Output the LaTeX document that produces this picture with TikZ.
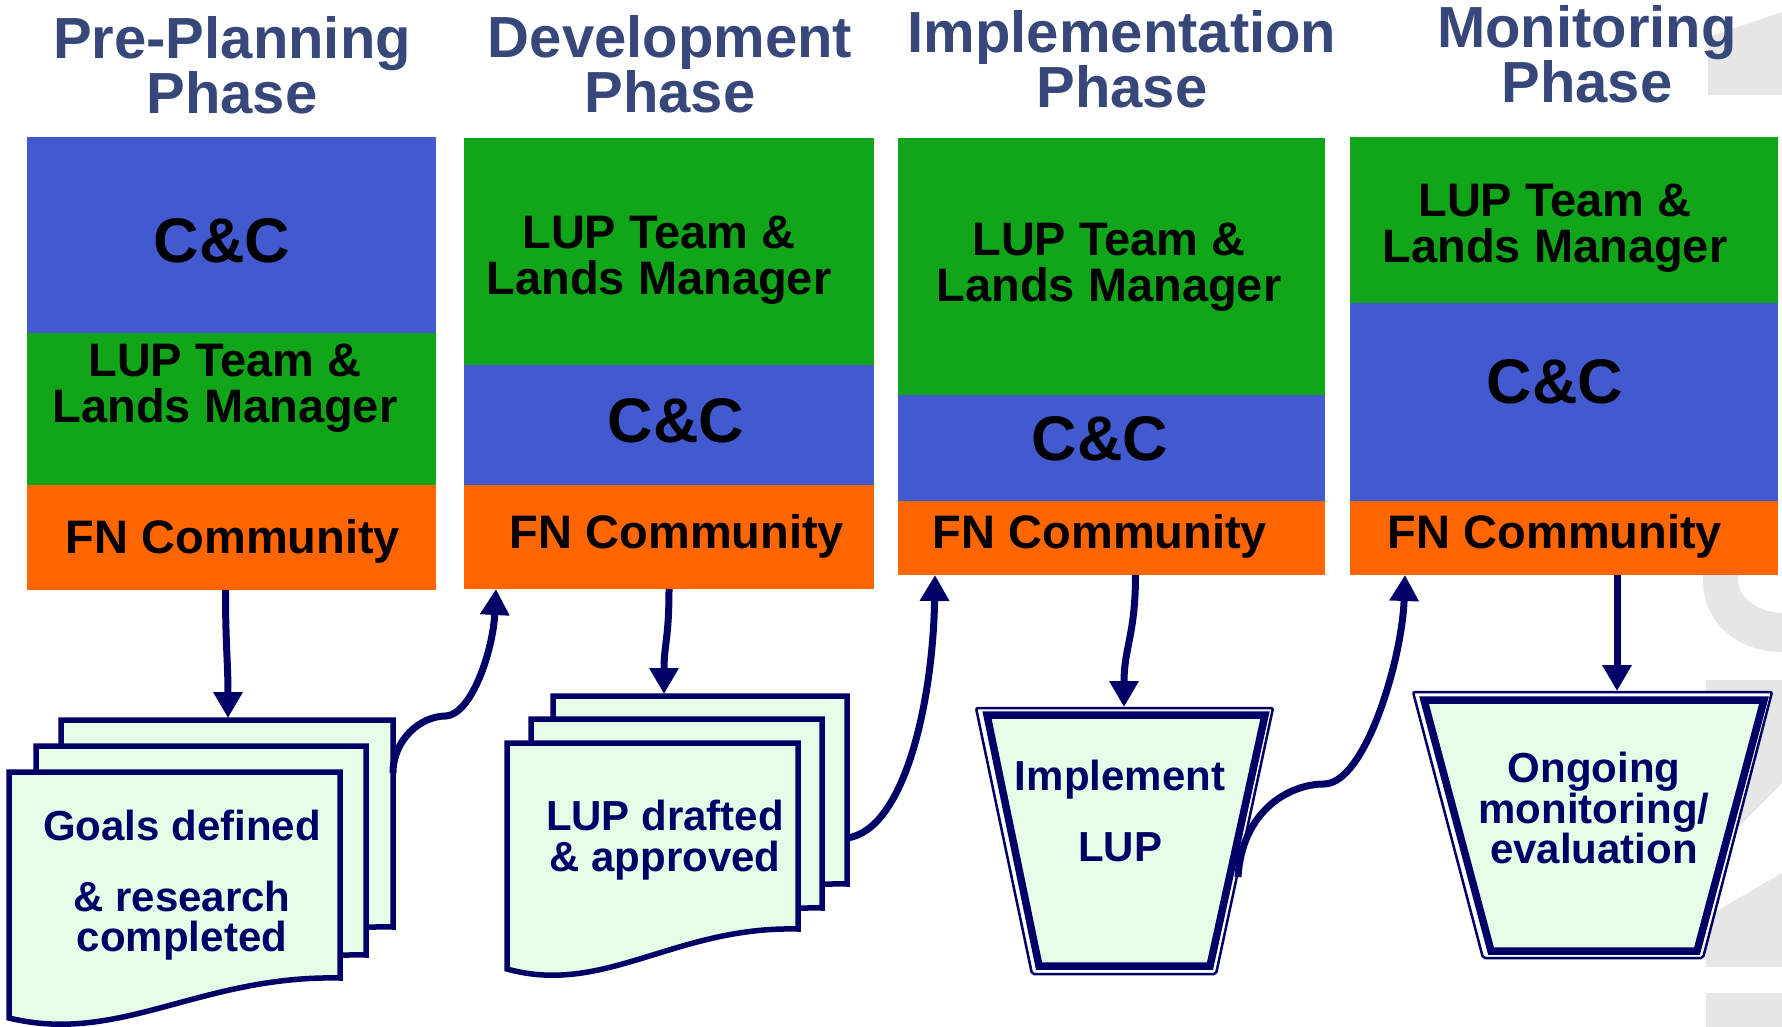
\documentclass[tikz,border=0pt]{standalone}
\usepackage{fontspec}
\setmainfont{Liberation Sans}
\usetikzlibrary{arrows.meta}
\definecolor{cblue}{RGB}{66,89,208}
\definecolor{cgreen}{RGB}{17,165,26}
\definecolor{corange}{RGB}{255,102,0}
\definecolor{navy}{RGB}{0,0,102}
\definecolor{lgreen}{RGB}{230,252,230}
\definecolor{ctitle}{RGB}{55,71,122}
\definecolor{wmgray}{RGB}{230,230,230}
\newcommand\ttlfont{\fontsize{58}{55}\selectfont\bfseries}
\newcommand\boxfont{\fontsize{47}{46}\selectfont\bfseries}
\newcommand\ccfont{\fontsize{63}{63}\selectfont\bfseries}
\newcommand\docfont{\fontsize{42}{40.5}\selectfont\bfseries}
% x0, yTop, width, height at right edge
\newcommand\docsheet[4]{%
  \pgfmathsetmacro\dsxr{#1+#3}\pgfmathsetmacro\dsyb{#2+#4}%
  \pgfmathsetmacro\dsca{#1+0.577*#3}\pgfmathsetmacro\dscb{#1+0.335*#3}%
  \filldraw[sheet] (#1,#2) -- (\dsxr,#2) -- (\dsxr,\dsyb)
    .. controls (\dsca,\dsyb-3) and (\dscb,\dsyb+67) .. (#1,\dsyb+40) -- cycle;}
\begin{document}
\begin{tikzpicture}[x=1pt,y=-1pt,
  band/.style={inner sep=0pt, outer sep=0pt, anchor=north west},
  ttl/.style={font=\ttlfont, text=ctitle, inner sep=0pt, anchor=north, align=center},
  lbl/.style={font=\boxfont, text=black, inner sep=0pt, align=center},
  cclbl/.style={font=\ccfont, text=black, inner sep=0pt, anchor=base},
  doclbl/.style={font=\docfont, text=navy, inner sep=0pt, anchor=north, align=center},
  sheet/.style={fill=lgreen, draw=navy, line width=5.5pt},
  trapout/.style={fill=white, draw=navy, line width=2.5pt, rounded corners=2pt},
  trapin/.style={fill=lgreen, draw=navy, line width=7.5pt},
  flow/.style={draw=navy, line width=7pt, -{Triangle[width=28pt,length=26pt]}},
  wm/.style={fill=wmgray, draw=none}
]
\useasboundingbox (0,0) rectangle (1782,1027);

% watermark
\fill[wm] (1708,37) -- (1782,12) -- (1782,95) -- (1708,95) -- cycle;
\fill[wm] (1703,560) -- (1703,580) .. controls (1703,625) and (1740,652) .. (1782,652)
  -- (1782,613) .. controls (1758,612) and (1738,598) .. (1738,580) -- (1738,560) -- cycle;
\fill[wm] (1706,680) -- (1782,680) -- (1782,783) -- (1706,860) -- cycle;
\fill[wm] (1706,917) -- (1782,873) -- (1782,967) -- (1706,967) -- cycle;
\fill[wm] (1706,993) -- (1782,993) -- (1782,1027) -- (1706,1027) -- cycle;

% titles
\node[ttl] (ttl1) at (232,16) {Pre-Planning\\Phase};
\node[ttl] (ttl2) at (670,15) {Development\\Phase};
\node[ttl] (ttl3) at (1122,10) {Implementation\\Phase};
\node[ttl] (ttl4) at (1587,5) {Monitoring\\Phase};

% column 1
\node[band, fill=cblue,   minimum width=409pt, minimum height=196pt] (c1blue)   at (27,137) {};
\node[band, fill=cgreen,  minimum width=409pt, minimum height=152pt] (c1green)  at (27,333) {};
\node[band, fill=corange, minimum width=409pt, minimum height=105pt] (c1orange) at (27,485) {};
% column 2
\node[band, fill=cgreen,  minimum width=410pt, minimum height=227pt] (c2green)  at (464,138) {};
\node[band, fill=cblue,   minimum width=410pt, minimum height=120pt] (c2blue)   at (464,365) {};
\node[band, fill=corange, minimum width=410pt, minimum height=104pt] (c2orange) at (464,485) {};
% column 3
\node[band, fill=cgreen,  minimum width=427pt, minimum height=257pt] (c3green)  at (898,138) {};
\node[band, fill=cblue,   minimum width=427pt, minimum height=106pt] (c3blue)   at (898,395) {};
\node[band, fill=corange, minimum width=427pt, minimum height=74pt]  (c3orange) at (898,501) {};
% column 4
\node[band, fill=cgreen,  minimum width=428pt, minimum height=166pt] (c4green)  at (1350,137) {};
\node[band, fill=cblue,   minimum width=428pt, minimum height=198pt] (c4blue)   at (1350,303) {};
\node[band, fill=corange, minimum width=428pt, minimum height=74pt]  (c4orange) at (1350,501) {};

% band texts
\node[cclbl] (c1cc) at (222,262) {C\&C};
\node[lbl, anchor=north] (c1lup) at (225,344) {LUP Team \&\\Lands Manager};
\node[lbl, anchor=base] (c1fn) at (233,553) {FN Community};

\node[lbl, anchor=north] (c2lup) at (659,216) {LUP Team \&\\Lands Manager};
\node[cclbl] (c2cc) at (676,442) {C\&C};
\node[lbl, anchor=base] (c2fn) at (677,548) {FN Community};

\node[lbl, anchor=north] (c3lup) at (1109,223) {LUP Team \&\\Lands Manager};
\node[cclbl] (c3cc) at (1100,460) {C\&C};
\node[lbl, anchor=base] (c3fn) at (1100,548) {FN Community};

\node[lbl, anchor=north] (c4lup) at (1555,184) {LUP Team \&\\Lands Manager};
\node[cclbl] (c4cc) at (1555,403) {C\&C};
\node[lbl, anchor=base] (c4fn) at (1555,548) {FN Community};

% document stacks
\docsheet{61}{720}{332}{207}
\docsheet{36}{746}{330}{209}
\docsheet{9}{772}{331}{206}
\node[doclbl] (d1txt) at (182,810) {Goals defined\\[30pt]\& research\\completed};

\docsheet{553}{696}{294}{188}
\docsheet{531}{719}{291}{189}
\docsheet{507}{743}{291}{186}
\node[doclbl] (d2txt) at (665,800) {LUP drafted\\\& approved};

% trapezoids
\filldraw[trapout] (976,708) -- (1273,708) -- (1216,974) -- (1032,974) -- cycle;
\filldraw[trapin] (987,715) -- (1265,715) -- (1210,966) -- (1039,966) -- cycle;
\node[doclbl] (t3txt) at (1120,760) {Implement\\[30pt]LUP};

\filldraw[trapout] (1413,692) -- (1772,692) -- (1703,958) -- (1483,958) -- cycle;
\filldraw[trapin] (1424,700) -- (1764,700) -- (1697,951) -- (1491,951) -- cycle;
\node[doclbl] (t4txt) at (1594,752) {Ongoing\\monitoring/\\evaluation};

% connector end points on drawn shapes
\coordinate (d1in) at (228,718);
\coordinate (d1out) at (393,773);
\coordinate (d2in) at (664,694);
\coordinate (d2out) at (847,838);
\coordinate (t3in) at (1124,707);
\coordinate (t3out) at (1238,877);
\coordinate (t4in) at (1617,691);

% connectors
\draw[flow] ([xshift=-6pt]c1orange.south) .. controls +(0,55) and +(0,-55) .. (d1in);
\draw[flow] (c2orange.south) .. controls +(0,50) and +(0,-50) .. (d2in);
\draw[flow] (d1out) .. controls (393,740) and (420,716) .. (446,716)
  .. controls (472,714) and (493,650) .. ([xshift=32pt]c2orange.south west);
\draw[flow] (d2out) .. controls (905,830) and (933,700) .. ([xshift=37pt]c3orange.south west);
\draw[flow] ([xshift=24pt]c3orange.south) .. controls +(0,60) and +(0,-60) .. (t3in);
\draw[flow] (t3out) .. controls (1242,810) and (1290,784) .. (1324,784)
  .. controls (1365,784) and (1402,660) .. ([xshift=55pt]c4orange.south west);
\draw[flow] ([xshift=53pt]c4orange.south) -- (t4in);
\end{tikzpicture}
\end{document}
